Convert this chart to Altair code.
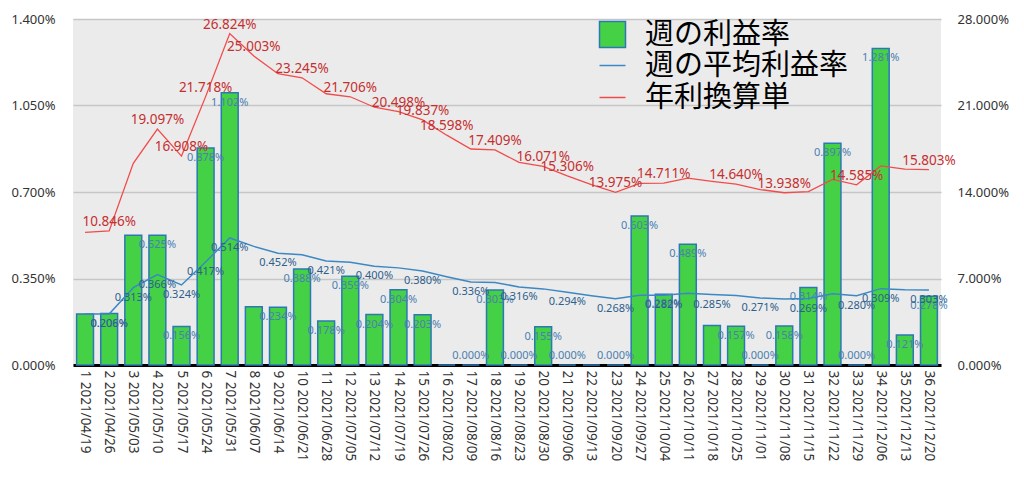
import altair as alt
import pandas as pd

dates = ["2021/04/19","2021/04/26","2021/05/03","2021/05/10","2021/05/17","2021/05/24",
         "2021/05/31","2021/06/07","2021/06/14","2021/06/21","2021/06/28","2021/07/05",
         "2021/07/12","2021/07/19","2021/07/26","2021/08/02","2021/08/09","2021/08/16",
         "2021/08/23","2021/08/30","2021/09/06","2021/09/13","2021/09/20","2021/09/27",
         "2021/10/04","2021/10/11","2021/10/18","2021/10/25","2021/11/01","2021/11/08",
         "2021/11/15","2021/11/22","2021/11/29","2021/12/06","2021/12/13","2021/12/20"]

weekly = [0.206, 0.208, 0.525, 0.525, 0.156, 0.878, 1.102, 0.236, 0.234, 0.388, 0.178, 0.359,
          0.204, 0.304, 0.203, 0.000, 0.000, 0.303, 0.000, 0.155, 0.000, 0.000, 0.000, 0.603,
          0.286, 0.489, 0.160, 0.157, 0.000, 0.158, 0.314, 0.897, 0.000, 1.281, 0.121, 0.278]

average = [0.206, 0.206, 0.313, 0.366, 0.324, 0.417, 0.514, 0.480, 0.452, 0.446, 0.421, 0.416,
           0.400, 0.393, 0.380, 0.357, 0.336, 0.334, 0.316, 0.308, 0.294, 0.280, 0.268, 0.282,
           0.282, 0.290, 0.285, 0.281, 0.271, 0.267, 0.269, 0.288, 0.280, 0.309, 0.304, 0.303]

annual = [10.74, 10.846, 16.32, 19.097, 16.908, 21.718, 26.824, 25.003, 23.57, 23.245, 21.95, 21.706,
          20.86, 20.498, 19.837, 18.598, 17.48, 17.409, 16.40, 16.071, 15.306, 14.60, 13.975, 14.70,
          14.711, 15.12, 14.86, 14.640, 14.20, 13.938, 14.03, 15.02, 14.585, 16.11, 15.85, 15.803]

# which data labels are visible in the reference
bar_label_weeks = [2,4,5,6,7,9,10,11,12,13,14,15,17,18,19,20,21,23,24,25,26,28,29,30,31,32,33,34,35,36]
avg_label_weeks = [2,3,4,5,6,7,9,11,13,15,17,19,21,23,25,27,29,31,33,34,36]
ann_label_weeks = [2,4,5,6,7,8,10,12,14,15,16,18,20,21,23,25,28,30,33,36]

series_names = ["週の利益率", "週の平均利益率", "年利換算単"]

cats = [f"{i+1} {d}" for i, d in enumerate(dates)]
df = pd.DataFrame({
    "cat": cats,
    "wk": list(range(1, len(cats) + 1)),
    "bar": weekly,
    "avg": average,
    "ann": annual,
})
df["show_bar"] = df["wk"].isin(bar_label_weeks)
df["show_avg"] = df["wk"].isin(avg_label_weeks)
df["show_ann"] = df["wk"].isin(ann_label_weeks)

NUM_FONT = "Noto Sans"
JP_FONT = "Noto Sans CJK JP"
GREEN = "#45d145"
BAR_EDGE = "#2c78b4"
BLUE = "#3b88c4"
RED = "#f24b4b"

base = alt.Chart(df)
x = alt.X("cat:N", sort=cats, title=None,
          scale=alt.Scale(paddingInner=0.3, paddingOuter=0.15),
          axis=alt.Axis(labelAngle=90, labelFontSize=13.5, labelFont=NUM_FONT, labelColor="#333333",
                        ticks=False, domainColor="black", domainWidth=3, labelPadding=5,
                        labelLimit=200))

yl_scale = alt.Scale(domain=[0, 1.4], nice=False)
yl_axis = alt.Axis(values=[0, 0.35, 0.7, 1.05, 1.4], labelExpr="format(datum.value, '.3f') + '%'",
                   labelFontSize=13, labelFont=NUM_FONT, labelColor="#333333", domain=False,
                   ticks=False, labelPadding=18, grid=True, gridColor="#c6c6c6", gridWidth=1.5,
                   title=None, orient="left")

bars = base.mark_bar(stroke=BAR_EDGE, strokeWidth=1.5).transform_calculate(
    series="'週の利益率'"
).encode(
    x=x,
    y=alt.Y("bar:Q", scale=yl_scale, axis=yl_axis),
    fill=alt.Fill("series:N", scale=alt.Scale(domain=[series_names[0]], range=[GREEN]),
                  legend=alt.Legend(title=None, orient="none", legendX=525, legendY=1,
                                    symbolType="square", symbolSize=676,
                                    symbolStrokeColor=BAR_EDGE, symbolStrokeWidth=1.5,
                                    labelFontSize=29, labelFont=JP_FONT, labelColor="black",
                                    labelOffset=18, padding=0, labelLimit=500)),
)

bar_lab_pos = base.transform_filter("datum.show_bar && datum.bar > 0").transform_calculate(
    lab="format(datum.bar, '.3f') + '%'"
).mark_text(dy=10, fontSize=11, font=NUM_FONT, color="#4a80b0").encode(
    x=alt.X("cat:N", sort=cats), y=alt.Y("bar:Q"), text="lab:N")

bar_lab_zero = base.transform_filter("datum.show_bar && datum.bar == 0").transform_calculate(
    lab="format(datum.bar, '.3f') + '%'"
).mark_text(dy=-9, fontSize=11, font=NUM_FONT, color="#4a80b0").encode(
    x=alt.X("cat:N", sort=cats), y=alt.Y("bar:Q"), text="lab:N")

stroke_scale = alt.Scale(domain=series_names[1:], range=[BLUE, RED])
stroke_legend = alt.Legend(title=None, orient="none", legendX=525, legendY=32,
                           symbolType="stroke", symbolSize=676, symbolStrokeWidth=1.5,
                           labelFontSize=29, labelFont=JP_FONT, labelColor="black",
                           labelOffset=18, padding=0, rowPadding=2, labelLimit=500)

avg_line = base.mark_line(strokeWidth=1.5).transform_calculate(
    series="'週の平均利益率'"
).encode(
    x=alt.X("cat:N", sort=cats), y=alt.Y("avg:Q"),
    stroke=alt.Stroke("series:N", scale=stroke_scale, legend=stroke_legend))

avg_lab = base.transform_filter("datum.show_avg").transform_calculate(
    lab="format(datum.avg, '.3f') + '%'"
).mark_text(dy=10, fontSize=11, font=NUM_FONT, color="#2d5f8e").encode(
    x=alt.X("cat:N", sort=cats), y=alt.Y("avg:Q"), text="lab:N")

left = alt.layer(bars, bar_lab_pos, bar_lab_zero, avg_line, avg_lab)

yr_axis = alt.Axis(values=[0, 7, 14, 21, 28], labelExpr="format(datum.value, '.3f') + '%'",
                   labelFontSize=13, labelFont=NUM_FONT, labelColor="#333333", domain=False,
                   ticks=False, labelPadding=16, grid=False, title=None, orient="right")

ann_line = base.mark_line(strokeWidth=1.3).transform_calculate(
    series="'年利換算単'"
).encode(
    x=alt.X("cat:N", sort=cats),
    y=alt.Y("ann:Q", scale=alt.Scale(domain=[0, 28], nice=False), axis=yr_axis),
    stroke=alt.Stroke("series:N", scale=stroke_scale, legend=stroke_legend))

ann_lab = base.transform_filter("datum.show_ann").transform_calculate(
    lab="format(datum.ann, '.3f') + '%'"
).mark_text(dy=-9, fontSize=13.5, font=NUM_FONT, color="#c62f2f").encode(
    x=alt.X("cat:N", sort=cats), y=alt.Y("ann:Q"), text="lab:N")

right = alt.layer(ann_line, ann_lab)

chart = alt.layer(left, right).resolve_scale(y="independent").properties(
    width=868, height=346,
    autosize=alt.AutoSizeParams(type="none"),
    padding={"left": 65, "top": 11, "right": 75, "bottom": 100},
).configure_view(fill="#ebebeb", strokeWidth=0)

chart.save("out.html", embed_options={"renderer": "svg", "actions": False})
